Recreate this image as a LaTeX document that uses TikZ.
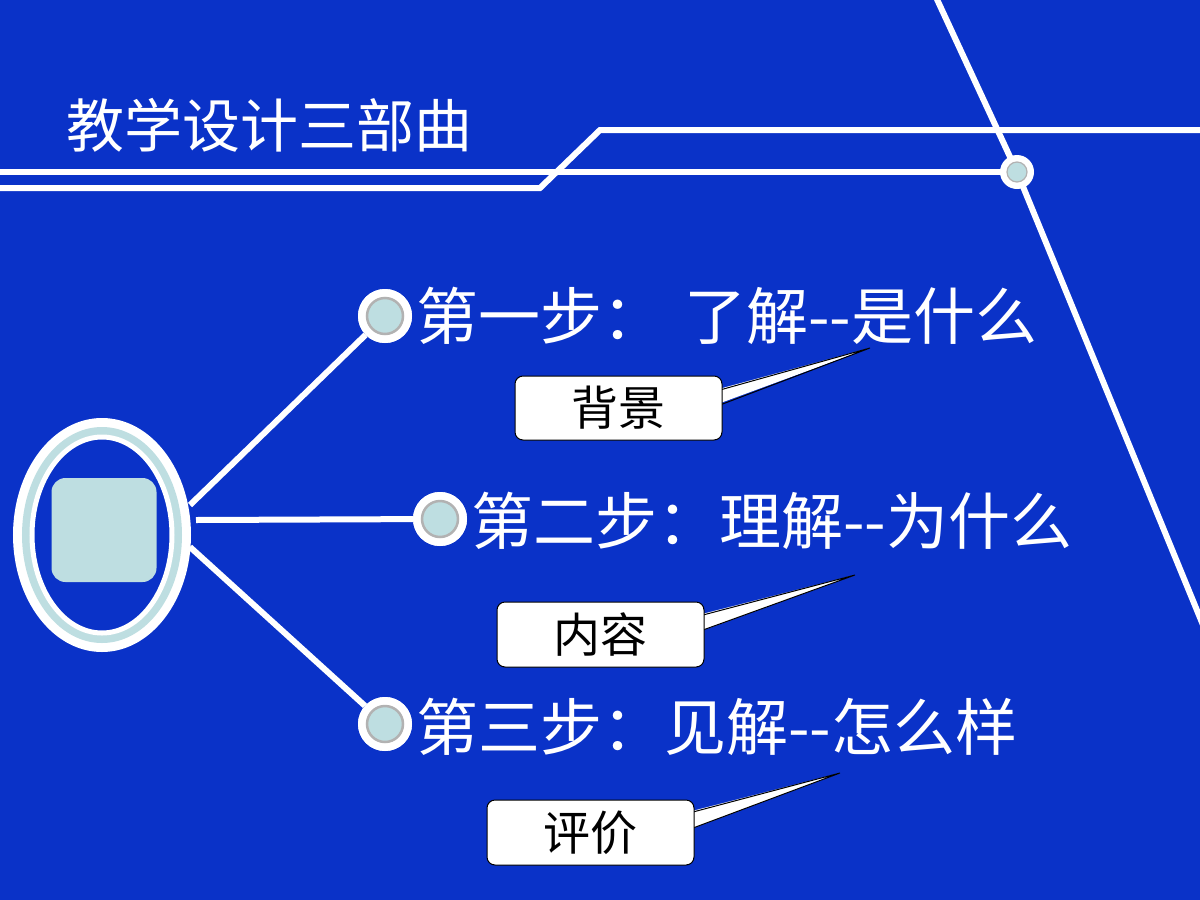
\documentclass[tikz,border=0pt]{standalone}
\usepackage{fontspec}
\newfontfamily\cjk{Noto Sans CJK SC}
\definecolor{bg}{RGB}{10,50,200}
\definecolor{lb}{RGB}{190,222,225}
\begin{document}
\begin{tikzpicture}[x=1pt,y=-1pt,
  wl/.style={white,line width=6pt},
  stepname/.style={anchor=west,inner sep=0pt,text=white,font=\cjk\fontsize{62}{66}\selectfont},
  callout/.style={draw=black,line width=1pt,fill=white,rounded corners=8pt},
  lbl/.style={font=\cjk\fontsize{47}{50}\selectfont,text=black}]
\fill[bg] (0,0) rectangle (1200,900);
\useasboundingbox (0,0) rectangle (1200,900);
% decorative lines
\draw[wl] (935,-5) -- (1017,172) -- (1203,625);
\draw[wl] (0,172) -- (1017,172);
\draw[wl] (0,188) -- (540,188) -- (600,130) -- (1205,130);
\node[circle,fill=white,minimum size=34pt,inner sep=0pt] (hub) at (1017,172) {};
\node[circle,draw=gray!60,line width=1.2pt,fill=lb,minimum size=20pt,inner sep=0pt] at (hub) {};
\node[anchor=west,inner sep=0pt,text=white,font=\cjk\fontsize{58}{62}\selectfont] (title) at (66,125) {教学设计三部曲};
% central ellipse
\coordinate (c) at (102,535);
\draw[white,line width=10pt] (c) ellipse (84 and 112);
\draw[lb,line width=8pt] (c) ellipse (76 and 104);
\draw[white,line width=5pt] (c) ellipse (70 and 98);
\node[fill=lb,rounded corners=14pt,minimum width=105pt,minimum height=104pt] (sq) at (104,530) {};
% bullets
\foreach \n/\p in {b1/{(385,316)},b2/{(440,519)},b3/{(385,724)}}{
  \node[circle,fill=white,minimum size=54pt,inner sep=0pt] (\n) at \p {};
}
\coordinate (e1) at (190,505);
\coordinate (e2) at (196,520);
\coordinate (e3) at (190,547);
\draw[wl] (e1) -- (b1);
\draw[wl] (e2) -- (b2);
\draw[wl] (e3) -- (b3);
\foreach \n in {b1,b2,b3}{
  \node[circle,fill=white,minimum size=54pt,inner sep=0pt] at (\n) {};
  \node[circle,draw=gray!60,line width=2.5pt,fill=lb,minimum size=36pt,inner sep=0pt] at (\n) {};
}
\node[stepname] (t1) at (416,316) {第一步：\hspace{20pt}了解--是什么};
\node[stepname] (t2) at (471,521) {第二步：理解--为什么};
\node[stepname] (t3) at (416,727) {第三步：见解--怎么样};
% callouts
\coordinate (p1) at (870,348);
\coordinate (p2) at (855,575);
\coordinate (p3) at (840,773);
\fill[white] (715,390) -- (p1) -- (715,405) -- cycle;
\draw[line width=1pt] (720,390) -- (p1) -- (720,405);
\node[callout,minimum width=207pt,minimum height=64pt] (l1) at (618.5,408) {};
\fill[white] (698,615) -- (p2) -- (698,632) -- cycle;
\draw[line width=1pt] (703,615) -- (p2) -- (703,630);
\node[callout,minimum width=207pt,minimum height=65pt] (l2) at (600.5,634.5) {};
\fill[white] (688,812) -- (p3) -- (688,830) -- cycle;
\draw[line width=1pt] (693,812) -- (p3) -- (693,828);
\node[callout,minimum width=207pt,minimum height=65pt] (l3) at (590.5,832.5) {};
\node[lbl] at (l1) {背景};
\node[lbl] at (l2) {内容};
\node[lbl] at (l3) {评价};
\end{tikzpicture}
\end{document}
